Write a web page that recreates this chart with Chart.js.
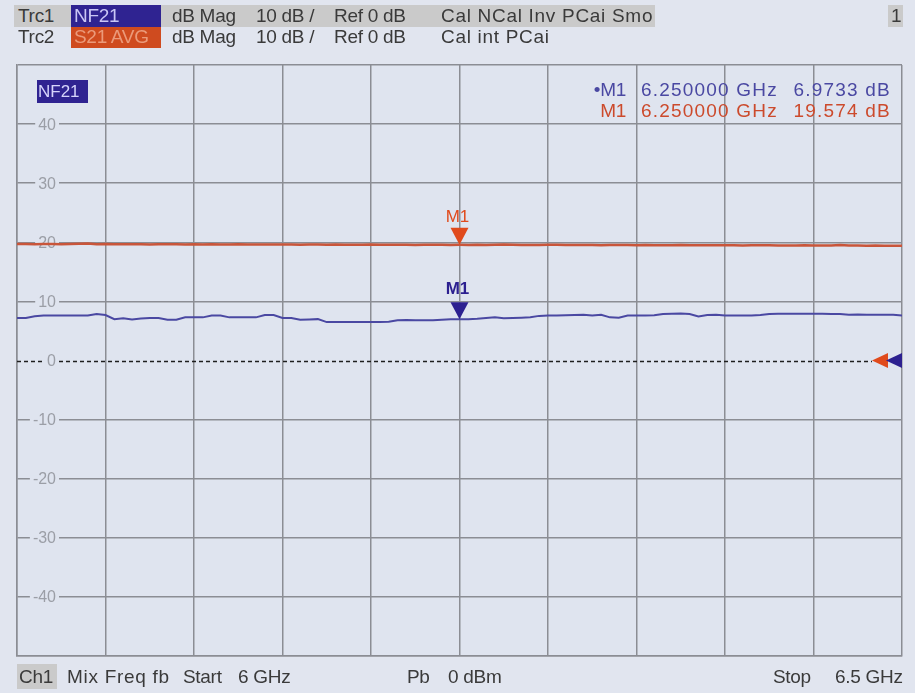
<!DOCTYPE html>
<html>
<head>
<meta charset="utf-8">
<script src="https://cdn.jsdelivr.net/npm/chart.js@4.4.1/dist/chart.umd.min.js"></script>
<style>
  html, body { margin: 0; padding: 0; }
  body {
    width: 915px; height: 693px; position: relative; overflow: hidden;
    background: #e1e5ef;
    font-family: "Liberation Sans", Arial, sans-serif;
    color: #3a3a3a;
  }
  #plot { position: absolute; left: 0; top: 0; }
  .t { position: absolute; white-space: pre; font-size: 19px; line-height: 22px; letter-spacing: -0.3px; }
  .r { text-align: right; }
  .w { letter-spacing: 0.7px; }
  .ro { letter-spacing: 1.2px; }
  .box { position: absolute; }
</style>
</head>
<body>
<canvas id="plot" width="915" height="693"></canvas>

<!-- trace header -->
<div class="box" style="left:14px; top:5px; width:641px; height:22px; background:#cacaca;"></div>
<div class="box" style="left:71px; top:5px; width:90px; height:22px; background:#2f2391;"></div>
<div class="box" style="left:71px; top:27px; width:90px; height:21px; background:#cf4b1f;"></div>
<div class="box" style="left:888px; top:5px; width:15px; height:22px; background:#cacaca;"></div>
<div class="t" style="left:18px; top:5px;">Trc1</div>
<div class="t" style="left:74px; top:5px; color:#c9c6f5;">NF21</div>
<div class="t" style="left:172px; top:5px;">dB Mag</div>
<div class="t" style="left:256px; top:5px;">10 dB /</div>
<div class="t" style="left:334px; top:5px;">Ref 0 dB</div>
<div class="t w" style="left:441px; top:5px;">Cal NCal Inv PCai Smo</div>
<div class="t" style="left:891px; top:5px;">1</div>
<div class="t" style="left:18px; top:26px;">Trc2</div>
<div class="t" style="left:74px; top:26px; color:#eb9a7a;">S21 AVG</div>
<div class="t" style="left:172px; top:26px;">dB Mag</div>
<div class="t" style="left:256px; top:26px;">10 dB /</div>
<div class="t" style="left:334px; top:26px;">Ref 0 dB</div>
<div class="t w" style="left:441px; top:26px;">Cal int PCai</div>

<!-- marker readout -->
<div class="t r" style="left:560px; width:66px; top:79px; color:#4a48a2;">•M1</div>
<div class="t ro" style="left:641px; top:79px; color:#4a48a2;">6.250000 GHz</div>
<div class="t r ro" style="left:760px; width:131px; top:79px; color:#4a48a2;">6.9733 dB</div>
<div class="t r" style="left:560px; width:66px; top:100px; color:#cc4a2c;">M1</div>
<div class="t ro" style="left:641px; top:100px; color:#cc4a2c;">6.250000 GHz</div>
<div class="t r ro" style="left:760px; width:131px; top:100px; color:#cc4a2c;">19.574 dB</div>

<!-- channel footer -->
<div class="box" style="left:17px; top:664px; width:40px; height:25px; background:#cacaca;"></div>
<div class="t" style="left:19px; top:666px;">Ch1</div>
<div class="t w" style="left:67px; top:666px;">Mix Freq fb</div>
<div class="t" style="left:183px; top:666px;">Start</div>
<div class="t" style="left:238px; top:666px;">6 GHz</div>
<div class="t" style="left:407px; top:666px;">Pb</div>
<div class="t" style="left:448px; top:666px;">0 dBm</div>
<div class="t" style="left:773px; top:666px;">Stop</div>
<div class="t" style="left:835px; top:666px;">6.5 GHz</div>

<script>
// Sweep: 6 GHz to 6.5 GHz, 101 points
const sweepStartGHz = 6.0;
const sweepStopGHz = 6.5;
const sweepPoints = 101;

// Trc1: noise figure NF21 (dB)
const nf21Db = [
  7.20, 7.20, 7.50, 7.60, 7.60, 7.60, 7.60, 7.60, 7.60, 7.85,
  7.70, 7.00, 7.15, 6.95, 7.10, 7.20, 7.20, 6.90, 6.90, 7.30,
  7.30, 7.30, 7.60, 7.60, 7.30, 7.30, 7.30, 7.30, 7.70, 7.70,
  7.20, 7.20, 6.90, 6.95, 7.00, 6.50, 6.50, 6.50, 6.50, 6.50,
  6.50, 6.50, 6.55, 6.80, 6.85, 6.80, 6.80, 6.80, 6.90, 7.00,
  6.97, 7.00, 7.05, 7.20, 7.30, 7.15, 7.20, 7.25, 7.30, 7.55,
  7.60, 7.60, 7.65, 7.70, 7.75, 7.60, 7.75, 7.30, 7.25, 7.60,
  7.60, 7.60, 7.65, 7.85, 7.90, 7.95, 7.85, 7.45, 7.70, 7.75,
  7.60, 7.60, 7.60, 7.60, 7.70, 7.85, 7.90, 7.90, 7.90, 7.90,
  7.90, 7.90, 7.85, 7.85, 7.75, 7.80, 7.75, 7.75, 7.75, 7.75,
  7.60
];

// Trc2: averaged gain S21 (dB)
const s21AvgDb = [
  19.70, 19.70, 19.68, 19.70, 19.72, 19.66, 19.70, 19.74, 19.78, 19.66,
  19.70, 19.68, 19.66, 19.68, 19.66, 19.64, 19.66, 19.68, 19.66, 19.64,
  19.66, 19.64, 19.66, 19.62, 19.64, 19.66, 19.64, 19.62, 19.64, 19.62,
  19.64, 19.62, 19.60, 19.62, 19.64, 19.60, 19.62, 19.60, 19.58, 19.60,
  19.62, 19.60, 19.58, 19.60, 19.58, 19.56, 19.58, 19.60, 19.58, 19.56,
  19.574, 19.56, 19.58, 19.56, 19.60, 19.62, 19.58, 19.56, 19.54, 19.56,
  19.58, 19.60, 19.56, 19.54, 19.56, 19.54, 19.52, 19.54, 19.56, 19.54,
  19.52, 19.54, 19.52, 19.50, 19.52, 19.54, 19.50, 19.48, 19.50, 19.52,
  19.50, 19.48, 19.46, 19.48, 19.50, 19.48, 19.46, 19.44, 19.46, 19.48,
  19.46, 19.44, 19.46, 19.56, 19.44, 19.46, 19.42, 19.44, 19.42, 19.40,
  19.40
];

// Level axis labels (dB)
const yTickLabels = [40, 30, 20, 10, 0, -10, -20, -30, -40];

// Marker M1
const markerFreqGHz = 6.25;
const markerNf21Db = 6.9733;
const markerS21Db = 19.574;

// Reference level for both traces
const refLevelDb = 0;

const sweepStepGHz = (sweepStopGHz - sweepStartGHz) / (sweepPoints - 1);
const freqGHz = Array.from({ length: sweepPoints }, (_, i) => sweepStartGHz + i * sweepStepGHz);
const toPoints = vals => vals.map((v, i) => ({ x: freqGHz[i], y: v }));

const colors = {
  plotBg: '#dfe4ef',
  grid: '#8b8d94',
  label: '#9b9ea6',
  nf: '#4a48a2',
  nfMarker: '#2c2090',
  s21: '#c9553a',
  s21Marker: '#e04a1c'
};

const FONT = '"Liberation Sans", Arial, sans-serif';

function triangleDown(ctx, x, tipY, w, h, color) {
  ctx.beginPath();
  ctx.moveTo(x, tipY);
  ctx.lineTo(x - w / 2, tipY - h);
  ctx.lineTo(x + w / 2, tipY - h);
  ctx.closePath();
  ctx.fillStyle = color;
  ctx.fill();
}
function triangleLeft(ctx, tipX, y, w, h, color) {
  ctx.beginPath();
  ctx.moveTo(tipX, y);
  ctx.lineTo(tipX + w, y - h / 2);
  ctx.lineTo(tipX + w, y + h / 2);
  ctx.closePath();
  ctx.fillStyle = color;
  ctx.fill();
}

const screenPlugin = {
  id: 'screen',
  beforeDraw(chart) {
    const { ctx, chartArea: a } = chart;
    ctx.save();
    ctx.fillStyle = colors.plotBg;
    ctx.fillRect(a.left, a.top, a.right - a.left, a.bottom - a.top);
    ctx.restore();
  },
  beforeDatasetsDraw(chart) {
    const { ctx, chartArea: a, scales: { y } } = chart;
    ctx.save();
    // dashed reference line
    const ry = Math.round(y.getPixelForValue(refLevelDb)) + 0.5;
    ctx.strokeStyle = '#1e1e1e';
    ctx.lineWidth = 1.5;
    ctx.setLineDash([4, 3]);
    ctx.beginPath();
    ctx.moveTo(a.left, ry);
    ctx.lineTo(a.right - 30, ry);
    ctx.stroke();
    ctx.setLineDash([]);
    // level labels, cut into the grid lines
    ctx.font = '16px ' + FONT;
    ctx.textAlign = 'right';
    ctx.textBaseline = 'middle';
    yTickLabels.forEach(v => {
      const py = y.getPixelForValue(v);
      const txt = String(v);
      const w = ctx.measureText(txt).width;
      ctx.fillStyle = colors.plotBg;
      ctx.fillRect(56 - w - 3, py - 3, w + 6, 6);
      ctx.fillStyle = colors.label;
      ctx.fillText(txt, 56, py + 1);
    });
    ctx.restore();
  },
  afterDatasetsDraw(chart) {
    const { ctx, chartArea: a, scales: { x, y } } = chart;
    ctx.save();
    // trace name tag
    ctx.fillStyle = '#2f2391';
    ctx.fillRect(37, 80, 51, 23);
    ctx.font = '17px ' + FONT;
    ctx.textAlign = 'left';
    ctx.textBaseline = 'middle';
    ctx.fillStyle = '#d6d4fb';
    ctx.fillText('NF21', 38, 92);

    // marker M1 on both traces
    const mx = x.getPixelForValue(markerFreqGHz);
    const ys = y.getPixelForValue(markerS21Db);
    const yn = y.getPixelForValue(markerNf21Db);
    triangleDown(ctx, mx, ys, 18, 17, colors.s21Marker);
    triangleDown(ctx, mx, yn, 18, 17, colors.nfMarker);
    ctx.textAlign = 'center';
    ctx.textBaseline = 'alphabetic';
    ctx.font = '17px ' + FONT;
    ctx.fillStyle = colors.s21Marker;
    ctx.fillText('M1', mx - 2, ys - 23);
    ctx.font = 'bold 17px ' + FONT;
    ctx.fillStyle = colors.nfMarker;
    ctx.fillText('M1', mx - 2, yn - 25);

    // reference level arrows at the right edge
    const ry = y.getPixelForValue(refLevelDb);
    triangleLeft(ctx, a.right - 30, ry, 16, 15, colors.s21Marker);
    triangleLeft(ctx, a.right - 16, ry, 16, 15, colors.nfMarker);
    ctx.restore();
  }
};

new Chart(document.getElementById('plot'), {
  type: 'line',
  data: {
    datasets: [
      {
        label: 'S21 AVG',
        data: toPoints(s21AvgDb),
        borderColor: colors.s21,
        borderWidth: 2.5,
        pointRadius: 0,
        tension: 0
      },
      {
        label: 'NF21',
        data: toPoints(nf21Db),
        borderColor: colors.nf,
        borderWidth: 2,
        pointRadius: 0,
        tension: 0
      }
    ]
  },
  options: {
    responsive: false,
    animation: false,
    events: [],
    layout: { padding: { left: 17, top: 65, right: 13, bottom: 37 } },
    plugins: { legend: { display: false }, tooltip: { enabled: false } },
    scales: {
      x: {
        type: 'linear',
        min: sweepStartGHz,
        max: sweepStopGHz,
        afterBuildTicks: s => {
          s.ticks = Array.from({ length: 11 }, (_, k) => ({ value: sweepStartGHz + k * (sweepStopGHz - sweepStartGHz) / 10 }));
        },
        ticks: { display: false },
        grid: { color: colors.grid, lineWidth: 1.5, drawTicks: false },
        border: { display: true, color: colors.grid, width: 1.5 }
      },
      y: {
        type: 'linear',
        min: -50,
        max: 50,
        ticks: { display: false, stepSize: 10 },
        grid: {
          color: c => (c.tick && c.tick.value === refLevelDb ? 'rgba(0,0,0,0)' : colors.grid),
          lineWidth: 1.5,
          drawTicks: false
        },
        border: { display: true, color: colors.grid, width: 1.5 }
      }
    }
  },
  plugins: [screenPlugin]
});
</script>
</body>
</html>
